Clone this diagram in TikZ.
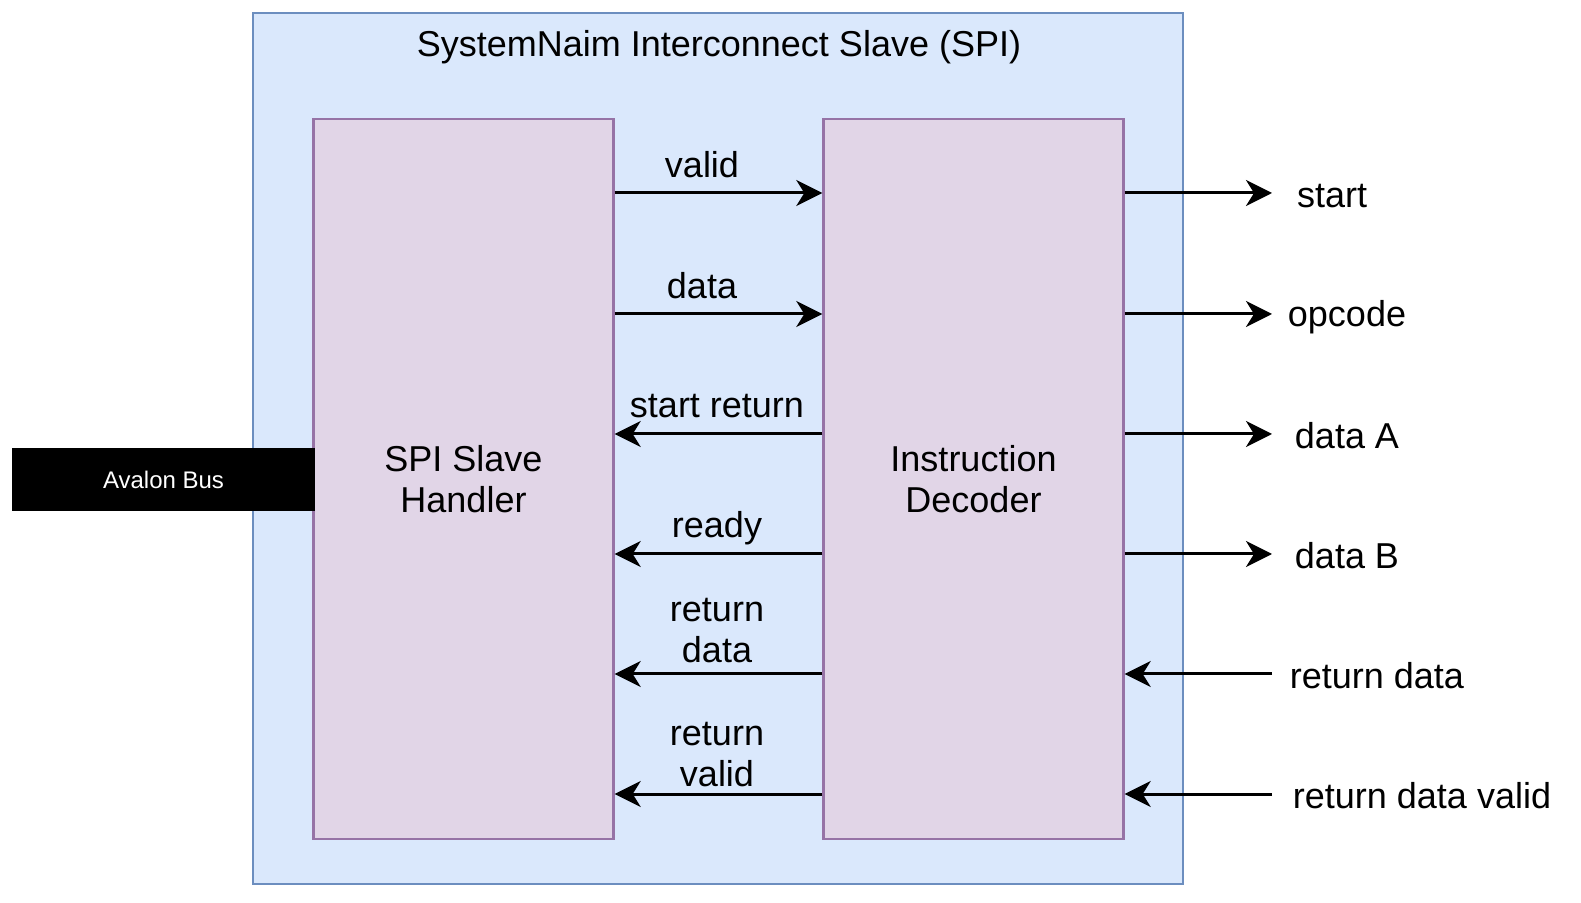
\documentclass[tikz,border=0pt]{standalone}
\usepackage{fontspec}
\setmainfont{Liberation Sans}
\usetikzlibrary{arrows.meta}

\definecolor{outerfill}{HTML}{DAE8FC}
\definecolor{outerline}{HTML}{6C8EBF}
\definecolor{blockfill}{HTML}{E1D5E7}
\definecolor{blockline}{HTML}{9673A6}

\tikzset{
  outerbox/.style={draw=outerline, fill=outerfill, line width=1.2pt, minimum width=465pt, minimum height=435.5pt},
  blockbox/.style={draw=blockline, fill=blockfill, line width=1.2pt, minimum width=150pt, minimum height=360pt, align=center, font=\fontsize{18}{20.5}\selectfont},
  busbox/.style={fill=black, text=white, minimum width=151.5pt, minimum height=31.5pt, font=\fontsize{12}{14}\selectfont},
  sig/.style={line width=1.5pt, -{Stealth[length=13pt, width=13pt, inset=4pt]}},
  lbl/.style={align=center, font=\fontsize{18}{20.5}\selectfont}
}

\begin{document}
\begin{tikzpicture}[x=0.5pt, y=-0.5pt]
\useasboundingbox (0,0) rectangle (1581,903);

% outer block
\node[outerbox] (sys) at (718,448.5) {};
\node[lbl, anchor=base] (title) at (719,57) {SystemNaim Interconnect Slave (SPI)};

% inner blocks
\node[blockbox] (spi) at (463.5,479) {SPI Slave\\Handler};
\node[blockbox] (dec) at (973.5,479) {Instruction\\Decoder};
\node[busbox] (bus) at (163.5,479.5) {Avalon Bus};

% between the blocks
\draw[sig] (spi.east |- 0,193) -- (dec.west |- 0,193);
\draw[sig] (spi.east |- 0,314) -- (dec.west |- 0,314);
\draw[sig] (dec.west |- 0,434) -- (spi.east |- 0,434);
\draw[sig] (dec.west |- 0,554) -- (spi.east |- 0,554);
\draw[sig] (dec.west |- 0,674) -- (spi.east |- 0,674);
\draw[sig] (dec.west |- 0,794) -- (spi.east |- 0,794);

\node[lbl] (lvalid) at (702,165) {valid};
\node[lbl] (ldata) at (702,286) {data};
\node[lbl] (lstartret) at (717,406) {start return};
\node[lbl] (lready) at (717,528) {ready};
\node[lbl] (lretdata) at (717,631) {return\\data};
\node[lbl] (lretvalid) at (717,755) {return\\valid};

% outputs and inputs of the decoder
\coordinate (o1) at (1272,193);
\coordinate (o2) at (1272,314);
\coordinate (o3) at (1272,434);
\coordinate (o4) at (1272,554);
\coordinate (i1) at (1272,674);
\coordinate (i2) at (1272,794);

\draw[sig] (dec.east |- o1) -- (o1);
\draw[sig] (dec.east |- o2) -- (o2);
\draw[sig] (dec.east |- o3) -- (o3);
\draw[sig] (dec.east |- o4) -- (o4);
\draw[sig] (i1) -- (dec.east |- i1);
\draw[sig] (i2) -- (dec.east |- i2);

\node[lbl] (lstart) at (1332,196) {start};
\node[lbl] (lopcode) at (1347,317) {opcode};
\node[lbl] (ldataa) at (1347,436) {data A};
\node[lbl] (ldatab) at (1347,556) {data B};
\node[lbl] (lindata) at (1377,676) {return data};
\node[lbl] (linvalid) at (1422,796) {return data valid};

\end{tikzpicture}
\end{document}
